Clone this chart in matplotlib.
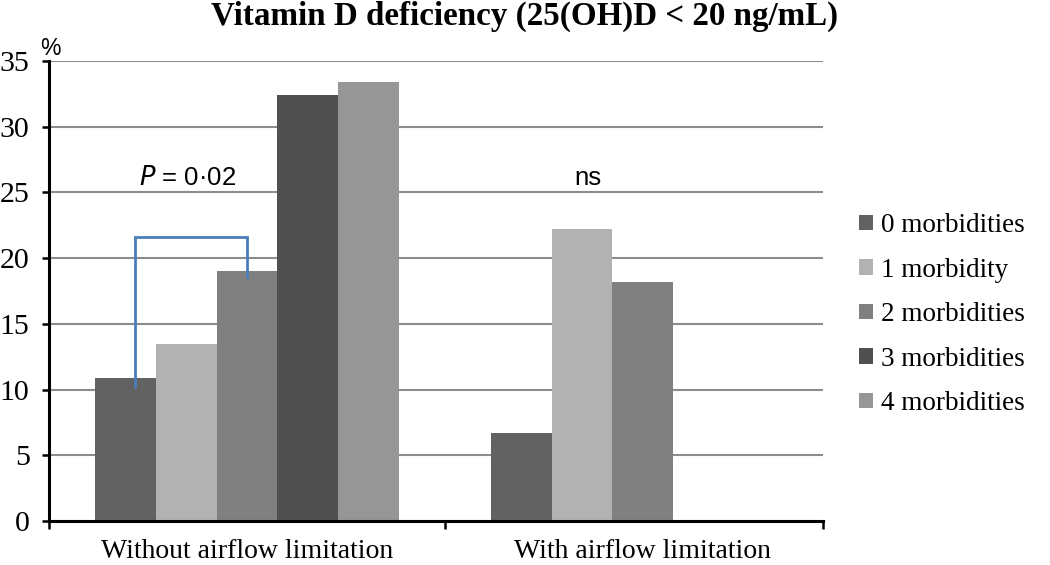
import matplotlib
matplotlib.use("Agg")
import matplotlib.pyplot as plt
import numpy as np

groups = ["Without airflow limitation", "With airflow limitation"]
series = ["0 morbidities", "1 morbidity", "2 morbidities", "3 morbidities", "4 morbidities"]
values = [
    [10.9, 6.7],    # 0 morbidities
    [13.5, 22.2],   # 1 morbidity
    [19.0, 18.2],   # 2 morbidities
    [32.4, np.nan], # 3 morbidities
    [33.4, np.nan], # 4 morbidities
]
colors = ["#626262", "#b2b2b2", "#808080", "#505050", "#969696"]
yticks = [0, 5, 10, 15, 20, 25, 30, 35]

serif = ["Liberation Serif", "DejaVu Serif"]
sans = ["Liberation Sans", "DejaVu Sans"]

fig = plt.figure(figsize=(10.5, 5.65), dpi=100)
ax = fig.add_axes([0.0467, 0.0779, 0.7371, 0.8141])

x = np.arange(len(groups))
w = 0.1535
for i, (name, vals, c) in enumerate(zip(series, values, colors)):
    ax.bar(x + (i - 2) * w, vals, width=w, color=c, label=name, zorder=2, linewidth=0)

ax.set_xlim(-0.5, 1.455)
ax.set_ylim(0, 35)
ax.set_yticks(yticks)
ax.set_yticklabels([str(t) for t in yticks], fontfamily=serif, fontsize=21.5)
ax.yaxis.grid(True, color="#8c8c8c", linewidth=1.5, zorder=0)
ax.set_axisbelow(True)

ax.set_xticks([-0.5, 0.5, 1.455])
ax.set_xticklabels(["", "", ""])
ax.set_xticks(x, minor=True)
ax.set_xticklabels(groups, minor=True, fontfamily=serif, fontsize=20)
ax.tick_params(axis="x", which="minor", length=0, pad=13)
ax.tick_params(axis="x", which="major", length=6, width=1.8, direction="out")
ax.tick_params(axis="y", length=5, width=1.8, direction="out", pad=9)

for s in ["top", "right"]:
    ax.spines[s].set_visible(False)
for s in ["left", "bottom"]:
    ax.spines[s].set_linewidth(2.2)
    ax.spines[s].set_color("black")
    ax.spines[s].set_zorder(3)

# significance bracket
bc = "#4a7ebb"
ax.plot([-0.283, -0.283, 0.0, 0.0], [10.2, 21.6, 21.6, 18.6], color=bc, lw=2, zorder=4,
        solid_joinstyle="miter")
ax.text(-0.15, 26.1, r"$P$ = 0·02", fontsize=18.5, ha="center", va="center",
        fontfamily=sans)
ax.text(0.861, 26.1, "ns", fontsize=18.5, ha="center", va="center", fontfamily=sans)

ax.text(-0.496, 35.45, "%", fontsize=16.5, ha="center", va="baseline", fontfamily=sans)

fig.suptitle("Vitamin D deficiency (25(OH)D < 20 ng/mL)", x=0.5, y=0.998, va="top",
             fontsize=23.8, fontweight="bold", fontfamily=serif)

leg = fig.legend(loc="center left", bbox_to_anchor=(0.818, 0.443), frameon=False,
                 prop={"family": serif, "size": 19.5}, handlelength=0.52, handleheight=0.52,
                 handletextpad=0.3, labelspacing=0.72, borderpad=0, borderaxespad=0)

fig.savefig("out.png", dpi=100)
